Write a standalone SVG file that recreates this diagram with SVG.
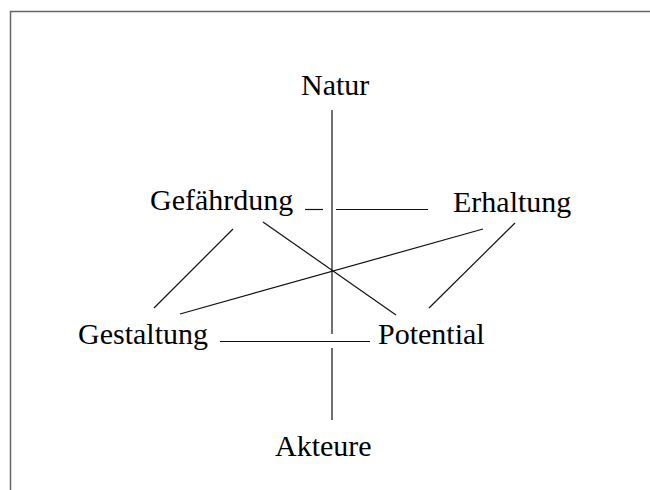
<svg xmlns="http://www.w3.org/2000/svg" width="650" height="490" viewBox="0 0 650 490">
<style>
.t{font-family:"Liberation Serif","Times New Roman",serif;font-size:30px;fill:#000}
.c line{stroke:#111;stroke-width:1.2;fill:none}
</style>
<rect width="650" height="490" fill="#fff"/>
<path d="M10.5 490 V11.5 H650" fill="none" stroke="#666" stroke-width="1.5"/>
<g class="c" id="connectors">
<line x1="332" y1="110" x2="332" y2="334"/>
<line x1="332" y1="348" x2="332" y2="420"/>
<line x1="305" y1="209.5" x2="323" y2="209.5"/>
<line x1="336" y1="209.5" x2="428" y2="209.5"/>
<line x1="220" y1="341.5" x2="370" y2="341.5"/>
<line x1="233" y1="229" x2="154" y2="308"/>
<line x1="263" y1="222" x2="396" y2="315"/>
<line x1="483" y1="229" x2="180" y2="314"/>
<line x1="515" y1="223" x2="429" y2="308"/>
</g>
<g id="natur"><text class="t" x="301" y="95">Natur</text></g>
<g id="gefaehrdung"><text class="t" x="150" y="210">Gefährdung</text></g>
<g id="erhaltung"><text class="t" x="453" y="212">Erhaltung</text></g>
<g id="gestaltung"><text class="t" x="78" y="344">Gestaltung</text></g>
<g id="potential"><text class="t" x="378" y="344">Potential</text></g>
<g id="akteure"><text class="t" x="275" y="456">Akteure</text></g>
</svg>
